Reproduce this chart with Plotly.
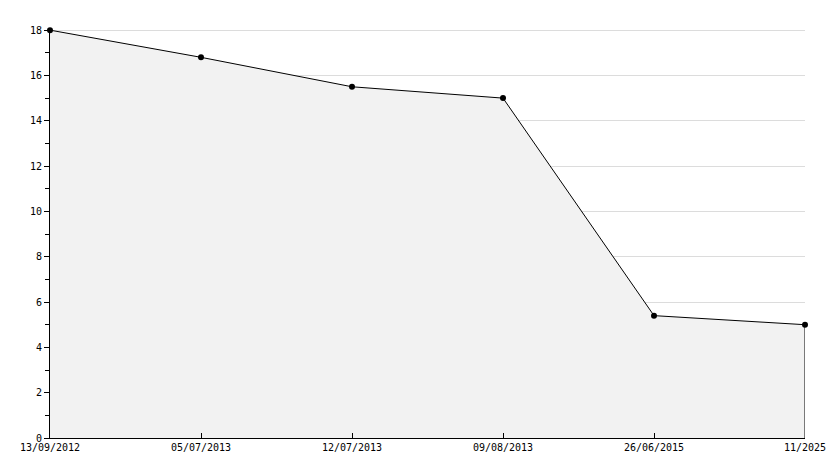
import plotly.graph_objects as go

categories = ["13/09/2012", "05/07/2013", "12/07/2013", "09/08/2013", "26/06/2015", "11/2025"]
values = [18, 16.8, 15.5, 15, 5.4, 5]
y_ticks = [0, 2, 4, 6, 8, 10, 12, 14, 16, 18]

xpos = list(range(len(categories)))

fig = go.Figure()
fig.add_trace(go.Scatter(
    x=xpos, y=values, mode="lines+markers",
    fill="tozeroy", fillcolor="#f2f2f2",
    line=dict(color="black", width=1),
    marker=dict(color="black", size=6, symbol="circle"),
    cliponaxis=False,
    hoverinfo="skip",
))
# right edge of the filled area
fig.add_trace(go.Scatter(
    x=[xpos[-1], xpos[-1]], y=[0, values[-1]], mode="lines",
    line=dict(color="black", width=1), hoverinfo="skip",
    cliponaxis=False,
))

font = dict(family="DejaVu Sans Mono", size=10, color="black")

# page body has an 8px default margin, so margins are shifted by 8px
fig.update_layout(
    width=834, height=468,
    margin=dict(l=42, r=37, t=21, b=38, autoexpand=False),
    paper_bgcolor="white", plot_bgcolor="white",
    showlegend=False,
    font=font,
    xaxis=dict(
        range=[xpos[0], xpos[-1]],
        tickvals=xpos, ticktext=categories,
        ticks="inside", ticklen=5, tickcolor="black",
        showgrid=False, zeroline=False,
        showline=True, linecolor="black", linewidth=1,
        tickfont=font, automargin=False,
    ),
    yaxis=dict(
        range=[0, 18.05],
        tickvals=y_ticks,
        ticks="outside", ticklen=5, tickcolor="black",
        showgrid=True, gridcolor="#dcdcdc", gridwidth=1,
        zeroline=False,
        showline=True, linecolor="black", linewidth=1,
        tickfont=font, automargin=False,
        minor=dict(ticks="outside", ticklen=4, dtick=1, tickcolor="black", showgrid=False),
    ),
)

fig.write_html("out.html")
